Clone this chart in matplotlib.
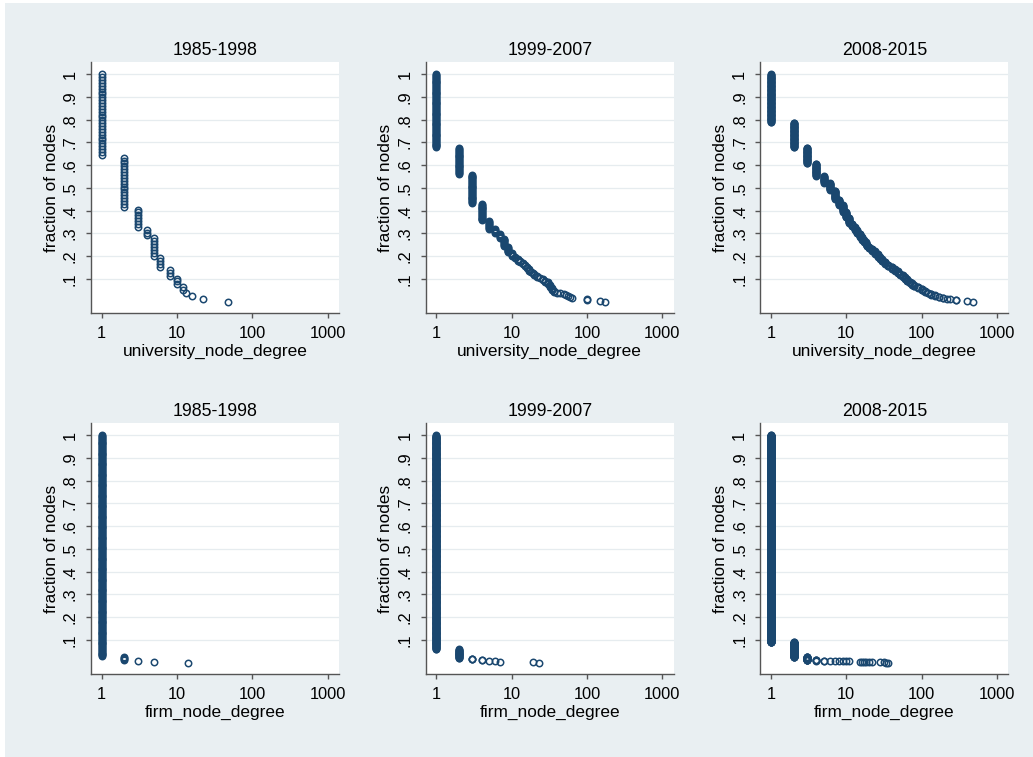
import numpy as np
import matplotlib
matplotlib.use("Agg")
import matplotlib.pyplot as plt
from matplotlib.patches import Rectangle
from matplotlib.ticker import NullLocator

plt.rcParams["font.family"] = ["Liberation Sans", "DejaVu Sans"]

periods = ["1985-1998", "1999-2007", "2008-2015"]

# node degree -> number of nodes with that degree
uni_deg_1985 = [1, 2, 3, 4, 5, 6, 8, 10, 12, 13, 16, 22, 48]
uni_cnt_1985 = [29, 18, 7, 3, 7, 4, 3, 3, 2, 1, 1, 1, 1]

uni_deg_1999 = [1, 2, 3, 4, 5, 6, 7, 8, 9, 10, 11, 12, 13, 14, 15, 16, 17, 18,
                19, 20, 22, 24, 26, 28, 30, 32, 34, 36, 40, 44, 49, 53, 56, 60,
                64, 100, 150, 175]
uni_cnt_1999 = [81, 29, 32, 19, 9, 5, 5, 9, 7, 4, 2, 3, 2, 2, 2, 2, 3, 2,
                1, 2, 2, 1, 2, 2, 3, 3, 3, 2, 1, 1, 1, 1, 1, 1,
                1, 2, 1, 1]

uni_deg_2008 = [1, 2, 3, 4, 5, 6, 7, 8, 9, 10, 11, 12, 13, 14, 15, 16, 17, 18,
                19, 20, 22, 24, 26, 28, 30, 33, 36, 40, 44, 48, 52, 56, 60, 65,
                70, 75, 80, 90, 100, 110, 120, 135, 150, 170, 190, 220, 240,
                290, 400, 480]
uni_cnt_2008 = [85, 44, 28, 22, 12, 13, 16, 10, 12, 10, 10, 6, 6, 6, 6, 5, 4, 4,
                4, 3, 5, 5, 5, 4, 4, 5, 4, 4, 4, 4, 3, 3, 4, 4,
                3, 3, 3, 3, 4, 3, 2, 3, 2, 2, 2, 1, 1,
                2, 1, 1]

firm_deg_1985 = [1, 2, 3, 5, 14]
firm_cnt_1985 = [243, 4, 1, 1, 1]

firm_deg_1999 = [1, 2, 3, 4, 5, 6, 7, 19, 23]
firm_cnt_1999 = [470, 20, 3, 2, 1, 1, 1, 1, 1]

firm_deg_2008 = [1, 2, 3, 4, 5, 6, 7, 8, 9, 10, 11, 15, 16, 17, 18, 20, 22,
                 28, 32, 34, 36]
firm_cnt_2008 = [1820, 130, 28, 4, 2, 1, 1, 1, 1, 1, 1, 1, 1, 1, 1, 1, 1,
                 1, 1, 1, 1]

rows = [
    ("university_node_degree",
     [(uni_deg_1985, uni_cnt_1985), (uni_deg_1999, uni_cnt_1999),
      (uni_deg_2008, uni_cnt_2008)]),
    ("firm_node_degree",
     [(firm_deg_1985, firm_cnt_1985), (firm_deg_1999, firm_cnt_1999),
      (firm_deg_2008, firm_cnt_2008)]),
]

y_ticks = [0.1, 0.2, 0.3, 0.4, 0.5, 0.6, 0.7, 0.8, 0.9, 1.0]
y_labels = [".1", ".2", ".3", ".4", ".5", ".6", ".7", ".8", ".9", "1"]
x_ticks = [1, 10, 100, 1000]
x_labels = ["1", "10", "100", "1000"]

navy = "#1a476f"
bg = "#e9eff2"
axis_col = "#555555"

W, H = 1033, 757
fig = plt.figure(figsize=(W / 100, H / 100), dpi=100)
fig.patch.set_facecolor(bg)
# thin white strip along the top and left edge
fig.add_artist(Rectangle((0, 1 - 3 / H), 1, 3 / H, transform=fig.transFigure,
                         facecolor="white", edgecolor="none", zorder=-5))
fig.add_artist(Rectangle((0, 0), 5 / W, 1, transform=fig.transFigure,
                         facecolor="white", edgecolor="none", zorder=-5))

col_left = [91, 425.7, 760.3]
row_bottom = [313, 674]
ax_w, ax_h = 248, 251

for r, (xlabel, panels) in enumerate(rows):
    for c, (deg, cnt) in enumerate(panels):
        ax = fig.add_axes([col_left[c] / W, 1 - row_bottom[r] / H, ax_w / W, ax_h / H])
        ax.set_facecolor("white")

        # one point per node, sorted by degree; y = fraction of nodes
        x = np.repeat(deg, cnt)
        n = len(x)
        y = 1 - np.arange(n) / (n - 1)
        ax.plot(x, y, "o", mfc="none", mec=navy, ms=4.6, mew=1.1, zorder=3)

        ax.set_xscale("log")
        ax.set_xlim(0.72, 1420)
        ax.set_ylim(-0.05, 1.054)
        ax.set_xticks(x_ticks)
        ax.set_xticklabels(x_labels)
        ax.xaxis.set_minor_locator(NullLocator())
        ax.set_yticks(y_ticks)
        ax.set_yticklabels(y_labels, rotation=90, va="center")

        ax.yaxis.grid(True, color="#e6ecef", lw=0.9)
        ax.set_axisbelow(True)
        for s in ["top", "right"]:
            ax.spines[s].set_visible(False)
        for s in ["left", "bottom"]:
            ax.spines[s].set_color(axis_col)
            ax.spines[s].set_linewidth(1.0)
        ax.tick_params(axis="both", direction="out", length=3.4, width=1.0,
                       color=axis_col, labelsize=11.8, labelcolor="black")
        ax.tick_params(axis="x", pad=6)
        ax.tick_params(axis="y", pad=6)

        ax.set_title(periods[c], fontsize=12.8, pad=5)
        ax.set_xlabel(xlabel, fontsize=12.4, labelpad=2)
        ax.set_ylabel("fraction of nodes", fontsize=12.4, labelpad=3)

fig.savefig("out.png", dpi=100, facecolor=fig.get_facecolor())
